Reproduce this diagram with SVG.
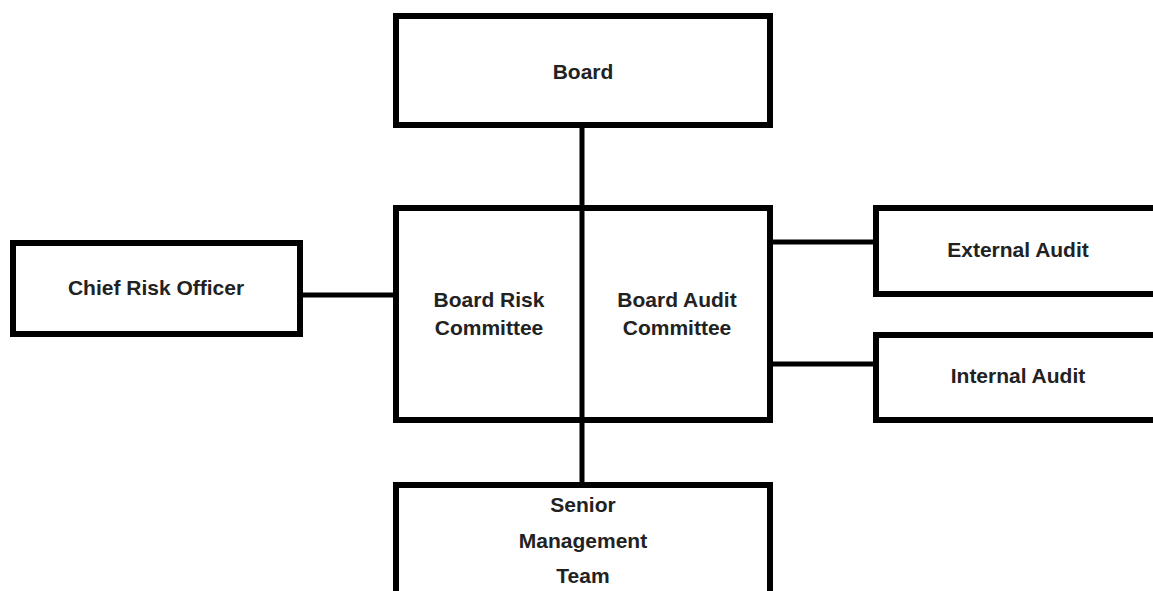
<svg xmlns="http://www.w3.org/2000/svg" width="1153" height="591" viewBox="0 0 1153 591">
<style>
.box{fill:#fff;stroke:#000;stroke-width:6}
.conn{stroke:#000;stroke-width:5;fill:none}
text{font-family:"Liberation Sans",Arial,sans-serif;font-weight:bold;font-size:21px;fill:#222;text-anchor:middle}
</style>
<rect width="1153" height="591" fill="#fff"/>
<g id="board"><rect class="box" x="396" y="16" width="374" height="109"/><text x="583" y="79">Board</text></g>
<g id="committees"><rect class="box" x="396" y="208" width="374" height="212"/>
<text x="489" y="307">Board Risk</text><text x="489" y="335">Committee</text>
<text x="677" y="307">Board Audit</text><text x="677" y="335">Committee</text></g>
<g id="senior"><rect class="box" x="396" y="485" width="374" height="130"/>
<text x="583" y="512">Senior</text><text x="583" y="548">Management</text><text x="583" y="583">Team</text></g>
<g id="cro"><rect class="box" x="13" y="243" width="287" height="91"/><text x="156" y="295">Chief Risk Officer</text></g>
<g id="external"><rect class="box" x="876" y="208" width="300" height="86"/><text x="1018" y="257">External Audit</text></g>
<g id="internal"><rect class="box" x="876" y="335" width="300" height="85"/><text x="1018" y="383">Internal Audit</text></g>
<g id="connectors">
<line class="conn" x1="582" y1="125" x2="582" y2="485"/>
<line class="conn" x1="300" y1="295" x2="396" y2="295"/>
<line class="conn" x1="770" y1="242" x2="876" y2="242"/>
<line class="conn" x1="770" y1="364" x2="876" y2="364"/>
</g>
</svg>
